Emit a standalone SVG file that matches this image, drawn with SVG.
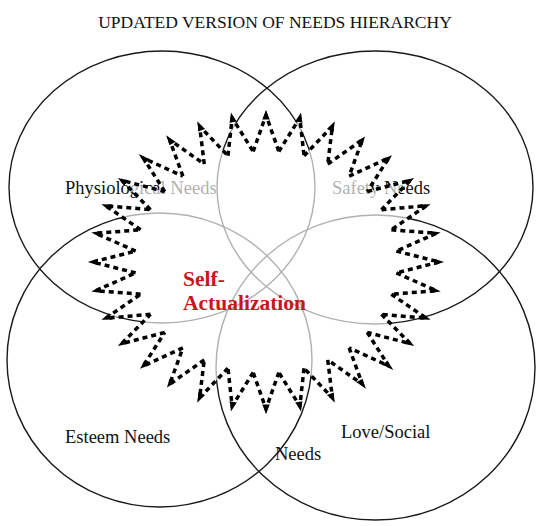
<svg xmlns="http://www.w3.org/2000/svg" width="540" height="526" viewBox="0 0 540 526">
<style>
.ring{fill:none;stroke:#1a1a1a;stroke-width:1.4}
.lbl{font-family:"Liberation Serif","Times New Roman",serif;font-size:18.5px;fill:#111}
.title{font-family:"Liberation Serif","Times New Roman",serif;font-size:17.5px;fill:#111}
.self{font-family:"Liberation Serif","Times New Roman",serif;font-size:21.5px;font-weight:bold;fill:#c8161e}
.zz{fill:none;stroke:#000;stroke-width:3.5;stroke-dasharray:5 4;vector-effect:non-scaling-stroke}
.ah{fill:#000}
</style>
<defs>
<g id="spike">
<path class="zz" d="M-10.88,-110.47 L0,-147 L10.88,-110.47"/>
<polygon class="ah" points="0,-151 -3.2,-142.5 3.2,-142.5"/>
</g>
<polygon id="spkf" points="0,0 -10.88,-110.47 0,-147 10.88,-110.47"/>
</defs>
<rect width="540" height="526" fill="#fff"/>
<text class="title" x="275" y="28" text-anchor="middle">UPDATED VERSION OF NEEDS HIERARCHY</text>
<g id="physiological">
<ellipse class="ring" cx="162" cy="187" rx="153" ry="136"/>
<text class="lbl" x="65" y="194">Physiological Needs</text>
</g>
<g id="safety">
<ellipse class="ring" cx="375" cy="187.5" rx="158" ry="136.5"/>
<text class="lbl" x="332" y="194">Safety Needs</text>
</g>
<g id="esteem">
<ellipse class="ring" cx="159.5" cy="360" rx="152.5" ry="147"/>
<text class="lbl" x="65" y="443">Esteem Needs</text>
</g>
<g id="love">
<ellipse class="ring" cx="375.5" cy="367.5" rx="159.5" ry="152.5"/>
<text class="lbl"><tspan x="341" y="438">Love/Social</tspan><tspan x="275" y="460">Needs</tspan></text>
</g>
<g id="overlay" transform="translate(266 262) scale(1.18 1)" opacity="0.66" fill="#fff">
<circle r="111"/>
<use href="#spkf"/><use href="#spkf" transform="rotate(11.25)"/><use href="#spkf" transform="rotate(22.5)"/><use href="#spkf" transform="rotate(33.75)"/>
<use href="#spkf" transform="rotate(45)"/><use href="#spkf" transform="rotate(56.25)"/><use href="#spkf" transform="rotate(67.5)"/><use href="#spkf" transform="rotate(78.75)"/>
<use href="#spkf" transform="rotate(90)"/><use href="#spkf" transform="rotate(101.25)"/><use href="#spkf" transform="rotate(112.5)"/><use href="#spkf" transform="rotate(123.75)"/>
<use href="#spkf" transform="rotate(135)"/><use href="#spkf" transform="rotate(146.25)"/><use href="#spkf" transform="rotate(157.5)"/><use href="#spkf" transform="rotate(168.75)"/>
<use href="#spkf" transform="rotate(180)"/><use href="#spkf" transform="rotate(191.25)"/><use href="#spkf" transform="rotate(202.5)"/><use href="#spkf" transform="rotate(213.75)"/>
<use href="#spkf" transform="rotate(225)"/><use href="#spkf" transform="rotate(236.25)"/><use href="#spkf" transform="rotate(247.5)"/><use href="#spkf" transform="rotate(258.75)"/>
<use href="#spkf" transform="rotate(270)"/><use href="#spkf" transform="rotate(281.25)"/><use href="#spkf" transform="rotate(292.5)"/><use href="#spkf" transform="rotate(303.75)"/>
<use href="#spkf" transform="rotate(315)"/><use href="#spkf" transform="rotate(326.25)"/><use href="#spkf" transform="rotate(337.5)"/><use href="#spkf" transform="rotate(348.75)"/>
</g>
<g id="connectors" transform="translate(266 262) scale(1.18 1)">
<use href="#spike"/><use href="#spike" transform="rotate(11.25)"/><use href="#spike" transform="rotate(22.5)"/><use href="#spike" transform="rotate(33.75)"/>
<use href="#spike" transform="rotate(45)"/><use href="#spike" transform="rotate(56.25)"/><use href="#spike" transform="rotate(67.5)"/><use href="#spike" transform="rotate(78.75)"/>
<use href="#spike" transform="rotate(90)"/><use href="#spike" transform="rotate(101.25)"/><use href="#spike" transform="rotate(112.5)"/><use href="#spike" transform="rotate(123.75)"/>
<use href="#spike" transform="rotate(135)"/><use href="#spike" transform="rotate(146.25)"/><use href="#spike" transform="rotate(157.5)"/><use href="#spike" transform="rotate(168.75)"/>
<use href="#spike" transform="rotate(180)"/><use href="#spike" transform="rotate(191.25)"/><use href="#spike" transform="rotate(202.5)"/><use href="#spike" transform="rotate(213.75)"/>
<use href="#spike" transform="rotate(225)"/><use href="#spike" transform="rotate(236.25)"/><use href="#spike" transform="rotate(247.5)"/><use href="#spike" transform="rotate(258.75)"/>
<use href="#spike" transform="rotate(270)"/><use href="#spike" transform="rotate(281.25)"/><use href="#spike" transform="rotate(292.5)"/><use href="#spike" transform="rotate(303.75)"/>
<use href="#spike" transform="rotate(315)"/><use href="#spike" transform="rotate(326.25)"/><use href="#spike" transform="rotate(337.5)"/><use href="#spike" transform="rotate(348.75)"/>
</g>
<g id="self-actualization">
<text class="self"><tspan x="183" y="286">Self-</tspan><tspan x="183" y="310">Actualization</tspan></text>
</g>
</svg>
